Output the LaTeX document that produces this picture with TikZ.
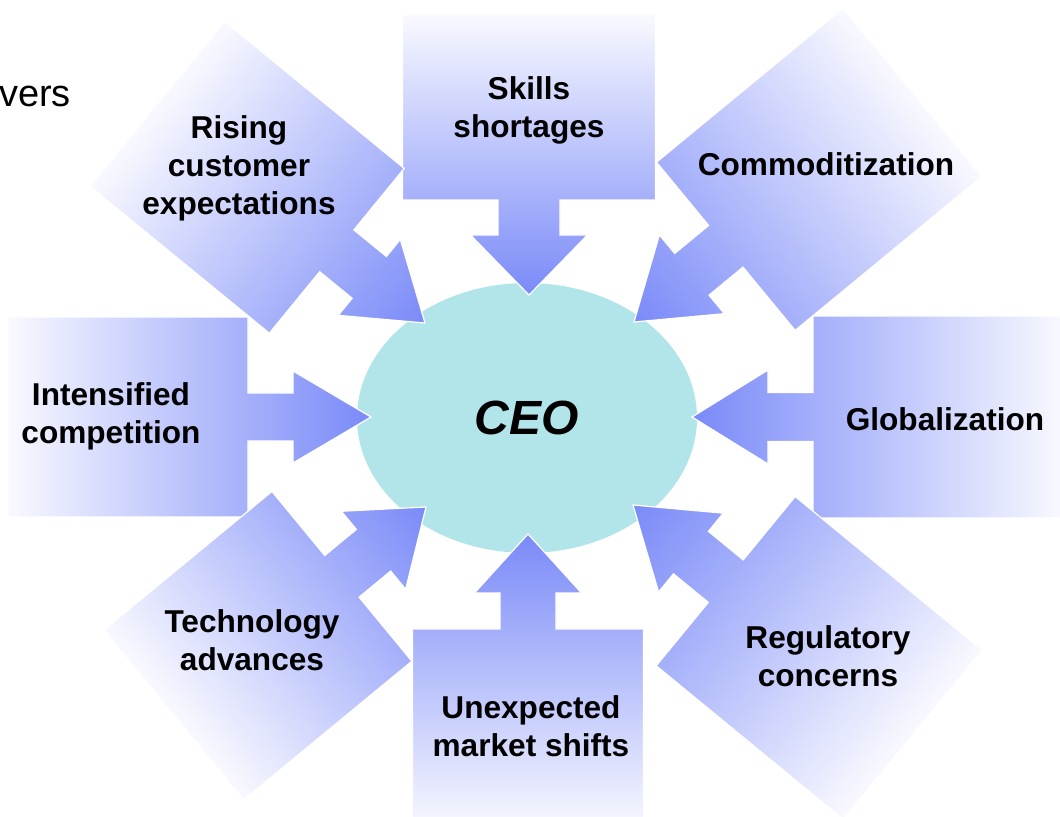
\documentclass[tikz,border=0pt]{standalone}
\usepackage{fontspec}
\setmainfont{Liberation Sans}
\usetikzlibrary{shapes.geometric}
\definecolor{arrowblue}{RGB}{122,138,248}
\definecolor{ceocyan}{RGB}{178,229,234}
% box + stem + head, tip at the origin, pointing along +x
% #1 box depth, #2 box width, #3 stem length, #4 stem width, #5 head length, #6 head width
\newcommand{\drivershape}[6]{%
\path[driver] (0,0) -- (-#5,#6/2) -- (-#5,#4/2) -- (-#5-#3,#4/2) -- (-#5-#3,#2/2)
  -- (-#5-#3-#1,#2/2) -- (-#5-#3-#1,-#2/2) -- (-#5-#3,-#2/2) -- (-#5-#3,-#4/2)
  -- (-#5,-#4/2) -- (-#5,-#6/2) -- cycle;}

\begin{document}
\begin{tikzpicture}[x=0.5pt,y=0.5pt,
  driver/.style={draw=white,line width=0.6pt,left color=arrowblue!5!white,right color=arrowblue},
  drivertext/.style={font=\fontsize{15.8}{19}\selectfont\bfseries,align=center},
  ceo/.style={ellipse,fill=ceocyan,minimum width=170pt,minimum height=135pt,inner sep=0pt,
    font=\fontsize{24}{28}\selectfont\bfseries\itshape}]
\useasboundingbox (0,0) rectangle (1060,-817);
%\draw[step=50,gray,very thin] (0,0) grid (1060,-817); %background grid
\node[ceo] (ceo) at (527,-418) {CEO};
\node[anchor=west,font=\fontsize{19}{22}\selectfont] (vers) at (-8,-96) {vers};
%---------------------------------------------------
\begin{scope}[transform canvas={shift={(371,-417)}}]
\drivershape{240}{200}{45}{48}{78}{92}
\end{scope}
\begin{scope}[transform canvas={shift={(692,-417)},rotate=180}]
\drivershape{250}{202}{45}{49}{76}{94}
\end{scope}
\begin{scope}[transform canvas={shift={(529,-295)},rotate=-90}]
\drivershape{185}{253}{35}{62}{60}{117}
\end{scope}
\begin{scope}[transform canvas={shift={(528,-534)},rotate=90}]
\drivershape{200}{231}{36}{56}{59}{107}
\end{scope}
%---------------------------------------------------
\begin{scope}[transform canvas={shift={(634,-322)},rotate=219.5}]
\drivershape{242}{218}{44}{54}{75}{102}
\end{scope}
\begin{scope}[transform canvas={shift={(633,-505)},rotate=140.6}]
\drivershape{242}{219}{45}{55}{75}{102}
\end{scope}
\begin{scope}[transform canvas={shift={(425,-323)},rotate=-39.3}]
\drivershape{232}{213}{42}{54}{72}{98}
\end{scope}
\begin{scope}[transform canvas={shift={(426,-507)},rotate=39.5}]
\drivershape{218}{220}{41}{54}{68}{101}
\end{scope}
%---------------------------------------------------
\node[drivertext] (intens) at (111,-416) {Intensified\\competition};
\node[drivertext] (glob) at (945,-419) {Globalization};
\node[drivertext] (skills) at (529,-110) {Skills\\shortages};
\node[drivertext] (market) at (531,-726) {Unexpected\\market shifts};
\node[drivertext] (commod) at (826,-164) {Commoditization};
\node[drivertext] (regul) at (828,-656) {Regulatory\\concerns};
\node[drivertext] (rising) at (239,-168) {Rising\\customer\\expectations};
\node[drivertext] (techno) at (252,-640) {Technology\\advances};

\end{tikzpicture}
\end{document}
